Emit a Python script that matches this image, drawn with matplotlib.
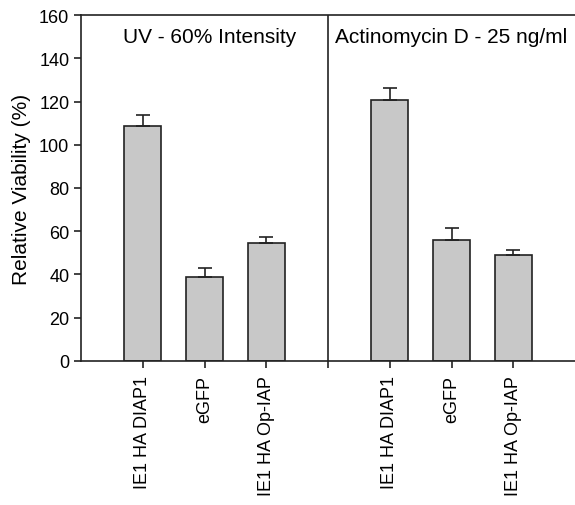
import matplotlib.pyplot as plt

plt.rcParams['font.family'] = ['Liberation Sans', 'DejaVu Sans']

labels = ["IE1 HA DIAP1", "eGFP", "IE1 HA Op-IAP",
          "IE1 HA DIAP1", "eGFP", "IE1 HA Op-IAP"]
values = [108.8, 38.8, 54.4, 120.7, 55.8, 48.8]
errors = [4.8, 4.0, 3.1, 5.8, 5.5, 2.6]
positions = [1, 2, 3, 5, 6, 7]
panel_titles = ["UV - 60% Intensity", "Actinomycin D - 25 ng/ml"]
panel_centers = [2.08, 6]

fig = plt.figure(figsize=(5.75, 5.06), dpi=100)
ax = fig.add_axes([0.141, 0.285, 0.859, 0.683])

ax.bar(positions, values, width=0.6, color='#c8c8c8', edgecolor='#222222', linewidth=1.2, zorder=2)
ax.errorbar(positions, values, yerr=[[0] * len(errors), errors], fmt='none',
            ecolor='#222222', elinewidth=1.2, capsize=5, capthick=1.2, zorder=3)

# separator between the two panels
ax.axvline(4, color='#222222', linewidth=1.2)

for t, c in zip(panel_titles, panel_centers):
    ax.text(c, 150, t, ha='center', va='center', fontsize=15)

ax.set_xlim(0, 8)
ax.set_ylim(0, 160)
ax.set_yticks(range(0, 161, 20))
ax.set_xticks(positions + [4])
ax.set_xticklabels(labels + [""], rotation=90, fontsize=13)
ax.tick_params(axis='y', labelsize=13, direction='out', length=5, width=1.2, color='#222222')
ax.tick_params(axis='x', direction='out', length=5, width=1.2, pad=5, color='#222222')
ax.set_ylabel("Relative Viability (%)", fontsize=15, labelpad=6)

for s in ['left', 'bottom', 'top']:
    ax.spines[s].set_linewidth(1.2)
    ax.spines[s].set_color('#222222')
ax.spines['right'].set_visible(False)

fig.savefig("out.png", dpi=100)
